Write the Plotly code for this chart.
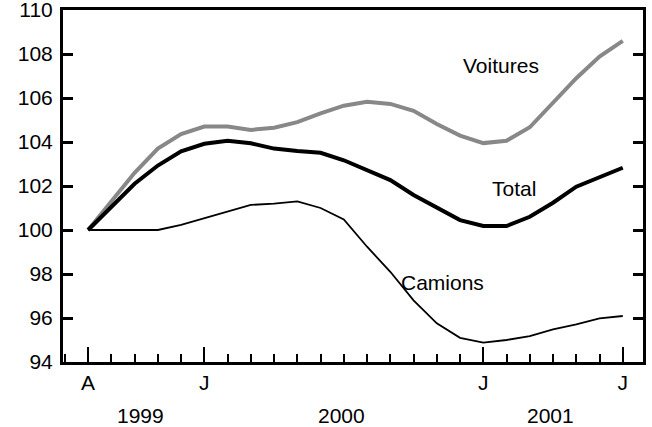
import plotly.graph_objects as go

months = list(range(24))  # Aug 1999 .. Jul 2001
voitures = [100, 101.3, 102.6, 103.7, 104.36, 104.7, 104.7, 104.55, 104.65, 104.9, 105.3, 105.65,
            105.83, 105.73, 105.42, 104.82, 104.29, 103.95, 104.06, 104.67, 105.76, 106.9, 107.88, 108.6]
total = [100, 101.05, 102.1, 102.93, 103.58, 103.92, 104.06, 103.94, 103.7, 103.59, 103.51, 103.17,
         102.73, 102.27, 101.59, 101.03, 100.45, 100.18, 100.18, 100.6, 101.24, 101.97, 102.42, 102.83]
camions = [100, 100, 100, 100, 100.23, 100.53, 100.83, 101.14, 101.2, 101.3, 101.0, 100.48,
           99.24, 98.1, 96.8, 95.76, 95.1, 94.88, 95.0, 95.18, 95.48, 95.71, 95.98, 96.09]

month_tickvals = [0, 5, 17, 23]
month_ticktext = ["A", "J", "J", "J"]
year_labels = ["1999", "2000", "2001"]
year_pos = [2.24, 10.88, 19.91]
yticks = [94, 96, 98, 100, 102, 104, 106, 108, 110]

FONT = "Liberation Sans, Arial, sans-serif"
FS = 21

fig = go.Figure()
fig.add_trace(go.Scatter(x=months, y=camions, mode="lines", line=dict(color="black", width=1.8), name="Camions"))
fig.add_trace(go.Scatter(x=months, y=voitures, mode="lines", line=dict(color="#888888", width=4), name="Voitures"))
fig.add_trace(go.Scatter(x=months, y=total, mode="lines", line=dict(color="black", width=4), name="Total"))

fig.add_annotation(x=17.76, y=107.5, text="Voitures", showarrow=False, font=dict(size=FS, color="black", family=FONT))
fig.add_annotation(x=18.32, y=101.9, text="Total", showarrow=False, font=dict(size=FS, color="black", family=FONT))
fig.add_annotation(x=15.23, y=97.6, text="Camions", showarrow=False, font=dict(size=FS, color="black", family=FONT))
for t, p in zip(year_labels, year_pos):
    fig.add_annotation(x=p, xref="x", y=-0.151, yref="paper", yanchor="middle", text=t, showarrow=False,
                       font=dict(size=FS, color="black", family=FONT))

fig.update_layout(
    width=652, height=427,
    margin=dict(l=63, r=9, t=10, b=65),
    paper_bgcolor="white", plot_bgcolor="white",
    showlegend=False,
    font=dict(family=FONT, size=FS, color="black"),
)
fig.update_xaxes(
    range=[-1.08, 23.87], showgrid=False, zeroline=False, automargin=False,
    showline=True, linecolor="black", linewidth=3, mirror=True,
    tickmode="array", tickvals=month_tickvals, ticktext=month_ticktext,
    ticks="inside", ticklen=15, tickwidth=2, tickcolor="black",
    ticklabelstandoff=0, ticklabeloverflow="allow",
    minor=dict(ticks="inside", tick0=0, dtick=1, ticklen=8, tickwidth=2, tickcolor="black", showgrid=False),
)
fig.update_yaxes(
    range=[94, 110], showgrid=False, zeroline=False, automargin=False,
    showline=True, linecolor="black", linewidth=3, mirror="ticks",
    tickmode="array", tickvals=yticks,
    ticks="inside", ticklen=10, tickwidth=3, tickcolor="black",
    ticklabelstandoff=3, ticklabeloverflow="allow",
)

fig.write_html("out.html", config={"displayModeBar": False},
               post_script="document.body.style.margin='0';document.body.style.overflow='hidden';")
